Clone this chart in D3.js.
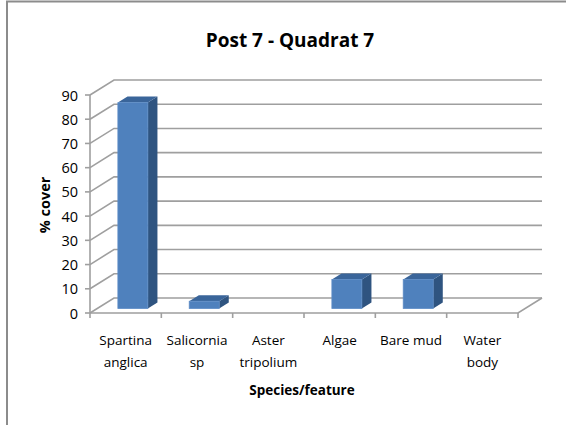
<!DOCTYPE html>
<html>
<head>
<meta charset="utf-8">
<script src="https://cdn.jsdelivr.net/npm/d3@7/dist/d3.min.js"></script>
<style>
  body { margin: 0; background: #fff; }
  text { font-family: "Open Sans", "Liberation Sans", sans-serif; fill: #000; }
</style>
</head>
<body>
<div id="chart"></div>
<script>
// data
const categories = [["Spartina", "anglica"], ["Salicornia", "sp"], ["Aster", "tripolium"], ["Algae"], ["Bare mud"], ["Water", "body"]];
const values = [85, 3, 0, 12, 12, 0];
const yTicks = [0, 10, 20, 30, 40, 50, 60, 70, 80, 90];
const title = "Post 7 - Quadrat 7";
const xTitle = "Species/feature";
const yTitle = "% cover";

const width = 566, height = 425;
const svg = d3.select("#chart").append("svg")
  .attr("width", width)
  .attr("height", height);

// frame
svg.append("path")
  .attr("d", `M7,${height} V1.5 H${width}`)
  .attr("fill", "none")
  .attr("stroke", "#8c8c8c")
  .attr("stroke-width", 2);

// 3d depth of the plot box
const DX = 24, DY = -15;
const x = d3.scaleBand().domain(d3.range(categories.length)).range([90, 518]);
const y = d3.scaleLinear().domain([0, 90]).range([313, 95]);
const P = (px, v, t) => [px + t * DX, y(v) + t * DY];
const gridColor = "#9f9f9f";
const line = d3.line();

// walls: gridlines on side wall + back wall
yTicks.forEach(v => {
  svg.append("path")
    .attr("d", line([P(90, v, 0), P(90, v, 1), P(518, v, 1)]))
    .attr("fill", "none")
    .attr("stroke", gridColor)
    .attr("stroke-width", 1.6);
});

// floor front and right edges
svg.append("path")
  .attr("d", line([P(90, 0, 0), P(518, 0, 0), P(518, 0, 1)]))
  .attr("fill", "none")
  .attr("stroke", gridColor)
  .attr("stroke-width", 1.6);

// y axis line and ticks
svg.append("path")
  .attr("d", line([P(90, 0, 0), P(90, 90, 0)]))
  .attr("stroke", gridColor)
  .attr("stroke-width", 1.6);
yTicks.forEach(v => {
  svg.append("line")
    .attr("x1", 85).attr("x2", 90)
    .attr("y1", y(v)).attr("y2", y(v))
    .attr("stroke", gridColor)
    .attr("stroke-width", 1.6);
  svg.append("text")
    .attr("x", 78)
    .attr("y", y(v) + 5.5)
    .attr("text-anchor", "end")
    .style("font-size", "14.5px")
    .text(v);
});

// x ticks at category boundaries
d3.range(categories.length + 1).forEach(i => {
  const px = 90 + i * x.step();
  svg.append("line")
    .attr("x1", px).attr("x2", px)
    .attr("y1", y(0)).attr("y2", y(0) + 5)
    .attr("stroke", gridColor)
    .attr("stroke-width", 1.6);
});

// bars
const t0 = 0.3, t1 = 0.7;
const bw = x.bandwidth() * 0.42;
values.forEach((v, i) => {
  if (v <= 0) return;
  const cx = x(i) + x.bandwidth() / 2;
  const x0 = cx - bw / 2, x1 = cx + bw / 2;
  const g = svg.append("g");
  g.append("path")
    .attr("d", line([P(x1, 0, t0), P(x1, v, t0), P(x1, v, t1), P(x1, 0, t1)]) + "Z")
    .attr("fill", "#2f5480");
  g.append("path")
    .attr("d", line([P(x0, v, t0), P(x1, v, t0), P(x1, v, t1), P(x0, v, t1)]) + "Z")
    .attr("fill", "#3a659a");
  const a = P(x0, v, t0), b = P(x1, 0, t0);
  g.append("rect")
    .attr("x", a[0]).attr("y", a[1])
    .attr("width", b[0] - a[0]).attr("height", b[1] - a[1])
    .attr("fill", "#4f81bd")
    .attr("stroke", "#5d8cc6")
    .attr("stroke-width", 0.8);
});

// category labels
categories.forEach((lines, i) => {
  const t = svg.append("text")
    .attr("x", x(i) + x.bandwidth() / 2)
    .attr("y", 345)
    .attr("text-anchor", "middle")
    .style("font-size", "13.5px");
  lines.forEach((s, k) => {
    t.append("tspan")
      .attr("x", x(i) + x.bandwidth() / 2)
      .attr("dy", k === 0 ? 0 : 22)
      .text(s);
  });
});

// titles
svg.append("text")
  .attr("x", 290).attr("y", 47)
  .attr("text-anchor", "middle")
  .style("font-size", "19px")
  .style("font-weight", "bold")
  .text(title);

svg.append("text")
  .attr("x", 302).attr("y", 395)
  .attr("text-anchor", "middle")
  .style("font-size", "13.5px")
  .style("font-weight", "bold")
  .text(xTitle);

svg.append("text")
  .attr("transform", "translate(50,205) rotate(-90)")
  .attr("text-anchor", "middle")
  .style("font-size", "14.5px")
  .style("font-weight", "bold")
  .text(yTitle);
</script>
</body>
</html>
